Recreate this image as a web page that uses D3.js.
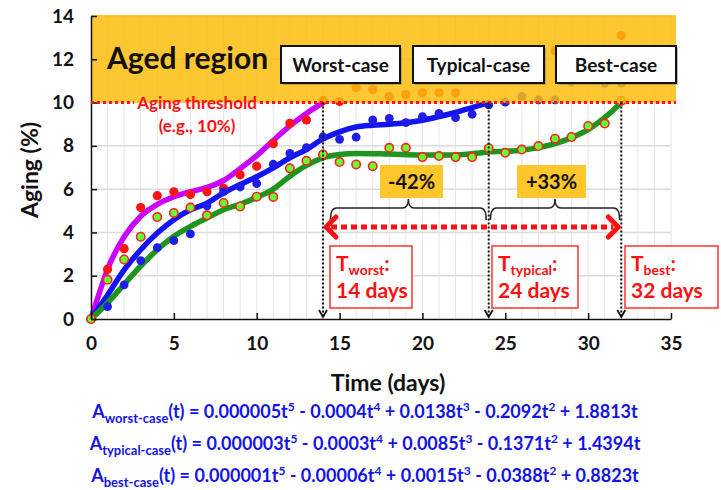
<!DOCTYPE html>
<html><head><meta charset="utf-8">
<script src="https://cdn.jsdelivr.net/npm/d3@7"></script>
<style>body{margin:0;background:#fff}svg{display:block}text{font-family:Lato,"Open Sans",sans-serif;font-weight:bold}</style>
</head><body><svg id="c" width="721" height="490"></svg>
<script>
// ---- data ----
const xTicks = [0,5,10,15,20,25,30,35];
const yTicks = [0,2,4,6,8,10,12,14];
const threshold = 10;
const caseDays = [14,24,32];
const caseNames = ["Worst-case","Typical-case","Best-case"];
const caseSubs = ["worst","typical","best"];
const changes = ["-42%","+33%"];

const worstDays = [0,1,2,3,4,5,6,7,8,9,10,11,12,13,14,15,16,17,18,19,20,21,22,28,32];
const worstVals = [0,2.3,3.25,5.15,5.7,5.88,5.75,5.88,6.04,6.66,7.06,8.1,9.04,9.2,10.1,10.05,10.68,10.6,10.28,10.37,10.45,10.45,10.45,12.4,13.1];
const typDays = [0,1,2,3,4,5,6,7,8,9,10,11,12,13,14,15,16,17,18,19,20,21,22,23,24,25,26,27,28,29,31,32];
const typVals = [0,0.57,1.58,2.7,3.3,3.62,3.93,5.23,5.88,6.1,6.26,7.15,7.65,7.92,8.42,8.3,8.4,9.2,9.27,9.07,9.35,9.5,9.3,9.46,9.89,10.02,10.28,10.12,10.12,10.95,10.9,10.9];
const bestDays = [0,1,2,3,4,5,6,7,8,9,10,11,12,13,14,15,16,17,18,19,20,21,22,23,24,25,26,27,28,29,30,31,32];
const bestVals = [0,1.81,2.75,3.8,4.71,4.9,5.15,4.79,5.36,5.2,5.65,5.64,6.96,7.31,7.6,7.25,7.14,7.06,7.91,7.91,7.48,7.53,7.48,7.48,7.89,7.68,7.83,7.99,8.33,8.41,8.92,9.03,10.07];

const worstFitT = [0,0.5,1,2,3,4,5,6,7,8,9,10,11,12,13,14];
const worstFitV = [0,1.2,2.3,3.8,4.75,5.3,5.65,5.88,6.08,6.4,6.95,7.55,8.25,8.92,9.5,10];
const typFitT = [0,1,2,3,4,5,6,7,8,9,10,11,12,13,14,15,16,17,18,19,20,21,22,23,24];
const typFitV = [0,1.11,2.27,3.2,3.97,4.59,5.05,5.35,5.83,6.21,6.57,6.98,7.45,7.83,8.32,8.65,8.87,8.95,9.0,9.07,9.18,9.35,9.54,9.77,10];
const bestFitT = [0,1,2,3,4,5,6,7,8,9,10,11,12,13,14,15,16,18,20,22,24,26,27,28,29,30,31,32];
const bestFitV = [0,0.75,1.6,2.45,3.2,3.82,4.28,4.67,5.05,5.3,5.62,6.0,6.6,7.1,7.45,7.6,7.65,7.62,7.58,7.58,7.72,7.8,7.92,8.1,8.38,8.75,9.3,10];

const eqSubs = ["worst-case","typical-case","best-case"];
const eqCoefs = [
 ["0.000005t"," - 0.0004t"," + 0.0138t"," - 0.2092t"," + 1.8813t"],
 ["0.000003t"," - 0.0003t"," + 0.0085t"," - 0.1371t"," + 1.4394t"],
 ["0.000001t"," - 0.00006t"," + 0.0015t"," - 0.0388t"," + 0.8823t"]
];
const eqPowers = ["5","4","3","2",""];

// ---- scales ----
const svg = d3.select("#c");
const x = d3.scaleLinear().domain([0,35]).range([91,671]);
const y = d3.scaleLinear().domain([0,14]).range([319,16]);

// grid
const g = svg.append("g");
g.selectAll(".vg").data(d3.range(1,36)).join("line")
  .attr("x1",d=>x(d)).attr("x2",d=>x(d)).attr("y1",y(0)).attr("y2",y(14))
  .attr("stroke","#e6e6e6").attr("stroke-width",1);
g.selectAll(".hg").data(yTicks.slice(1)).join("line")
  .attr("x1",x(0)).attr("x2",x(35)).attr("y1",d=>y(d)).attr("y2",d=>y(d))
  .attr("stroke","#dcdcdc").attr("stroke-width",1.5);

// fitted curves
const line = d3.line().x(d=>x(d[0])).y(d=>y(d[1])).curve(d3.curveMonotoneX);
const fits = [[worstFitT,worstFitV,"#CC00FF"],[typFitT,typFitV,"#1414F0"],[bestFitT,bestFitV,"#1E961E"]];
fits.forEach(([t,v,c])=>{
  svg.append("path").datum(t.map((d,i)=>[d,v[i]])).attr("d",line)
    .attr("fill","none").attr("stroke",c).attr("stroke-width",5.5).attr("stroke-linecap","round");
});

// measured points
svg.append("g").selectAll("circle").data(worstDays.map((d,i)=>[d,worstVals[i]])).join("circle")
  .attr("cx",d=>x(d[0])).attr("cy",d=>y(d[1])).attr("r",4.6).attr("fill","#FF1414");
svg.append("g").selectAll("circle").data(typDays.map((d,i)=>[d,typVals[i]])).join("circle")
  .attr("cx",d=>x(d[0])).attr("cy",d=>y(d[1])).attr("r",4.4).attr("fill","#1E1EE6");
svg.append("g").selectAll("circle").data(bestDays.map((d,i)=>[d,bestVals[i]])).join("circle")
  .attr("cx",d=>x(d[0])).attr("cy",d=>y(d[1])).attr("r",4.2).attr("fill","#66FF33")
  .attr("stroke","#FF2020").attr("stroke-width",1.6);

// aged region overlay
svg.append("rect").attr("x",x(0)).attr("y",y(14)-1).attr("width",676-x(0)).attr("height",y(threshold)-y(14)+1)
  .attr("fill","#FCBC0A").attr("fill-opacity",0.84);

// axes
const ax = svg.append("g").attr("transform",`translate(0,${y(0)})`)
  .call(d3.axisBottom(x).tickValues(xTicks).tickSizeInner(-6).tickSizeOuter(0).tickPadding(18));
ax.select(".domain").attr("stroke","#111").attr("stroke-width",1.5);
ax.selectAll(".tick line").attr("stroke","#111").attr("stroke-width",1.5);
ax.selectAll("text").attr("font-size",19).attr("fill","#111").attr("font-family","Lato").attr("font-weight","bold");
const ay = svg.append("g").attr("transform",`translate(${x(0)},0)`)
  .call(d3.axisLeft(y).tickValues(yTicks).tickSizeInner(-6).tickSizeOuter(0).tickPadding(17));
ay.select(".domain").attr("stroke","#111").attr("stroke-width",1.5);
ay.selectAll(".tick line").attr("stroke","#111").attr("stroke-width",1.5);
ay.selectAll("text").attr("font-size",19).attr("fill","#111").attr("font-family","Lato").attr("font-weight","bold");

svg.append("text").attr("transform",`translate(38,170) rotate(-90)`).attr("text-anchor","middle")
  .attr("font-size",23).attr("fill","#111").text("Aging (%)");
svg.append("text").attr("x",388).attr("y",391).attr("text-anchor","middle")
  .attr("font-size",23).attr("fill","#111").text("Time (days)");

// threshold line (broken behind label)
const ty = y(threshold);
[[x(0),134],[260,676]].forEach(([a,b])=>{
  svg.append("line").attr("x1",a).attr("x2",b).attr("y1",ty).attr("y2",ty)
    .attr("stroke","#FF1010").attr("stroke-width",3).attr("stroke-dasharray","3,3");
});
svg.append("text").attr("x",197).attr("y",ty+6).attr("text-anchor","middle").attr("font-size",17)
  .attr("fill","#FF1010").text("Aging threshold");
svg.append("text").attr("x",197).attr("y",ty+29).attr("text-anchor","middle").attr("font-size",17)
  .attr("fill","#FF1010").text("(e.g., 10%)");

svg.append("text").attr("x",107).attr("y",69).attr("font-size",30).attr("fill","#111").text("Aged region");

// case boxes
const boxX = [[281,400],[413,544],[556,676]];
caseNames.forEach((n,i)=>{
  const [a,b]=boxX[i];
  svg.append("rect").attr("x",a+2).attr("y",48).attr("width",b-a).attr("height",37).attr("fill","#8a7a50").attr("opacity",0.5);
  svg.append("rect").attr("x",a).attr("y",46).attr("width",b-a).attr("height",37).attr("fill","#fff").attr("stroke","#111").attr("stroke-width",2);
  svg.append("text").attr("x",(a+b)/2).attr("y",72).attr("text-anchor","middle").attr("font-size",19).attr("fill","#111").text(n);
});

// vertical dotted lines with arrowheads
caseDays.forEach(d=>{
  svg.append("line").attr("x1",x(d)).attr("x2",x(d)).attr("y1",ty).attr("y2",y(0)-2)
    .attr("stroke","#111").attr("stroke-width",2).attr("stroke-dasharray","2,2");
  svg.append("path").attr("d",`M${x(d)-4},${y(0)-9} L${x(d)},${y(0)-2} L${x(d)+4},${y(0)-9}`)
    .attr("fill","none").attr("stroke","#111").attr("stroke-width",1.8);
});

// braces
function brace(x1,x2,yb,yh,tip){
  const xm=(x1+x2)/2, r=6;
  return `M${x1},${yb} Q${x1},${yh} ${x1+r},${yh} L${xm-r},${yh} Q${xm},${yh} ${xm},${tip} Q${xm},${yh} ${xm+r},${yh} L${x2-r},${yh} Q${x2},${yh} ${x2},${yb}`;
}
svg.append("path").attr("d",brace(x(14.45),x(23.85),220,208,199)).attr("fill","none").attr("stroke","#222").attr("stroke-width",1.5);
svg.append("path").attr("d",brace(x(24.1),x(31.9),220,208,199)).attr("fill","none").attr("stroke","#222").attr("stroke-width",1.5);

// change labels
[[380,443],[517,586]].forEach(([a,b],i)=>{
  svg.append("rect").attr("x",a).attr("y",165).attr("width",b-a).attr("height",33).attr("fill","#FFC72C");
  svg.append("text").attr("x",(a+b)/2).attr("y",189).attr("text-anchor","middle").attr("font-size",20).attr("fill","#111").text(changes[i]);
});

// red double arrow
const ay2 = 227;
svg.append("line").attr("x1",x(14)+8).attr("x2",x(32)-8).attr("y1",ay2).attr("y2",ay2)
  .attr("stroke","#FF1010").attr("stroke-width",5).attr("stroke-dasharray","6,4");
svg.append("path").attr("d",`M${x(14)+13},${ay2-10} L${x(14)+3},${ay2} L${x(14)+13},${ay2+10}`)
  .attr("fill","none").attr("stroke","#FF1010").attr("stroke-width",5).attr("stroke-linecap","round").attr("stroke-linejoin","round");
svg.append("path").attr("d",`M${x(32)-13},${ay2-10} L${x(32)-3},${ay2} L${x(32)-13},${ay2+10}`)
  .attr("fill","none").attr("stroke","#FF1010").attr("stroke-width",5).attr("stroke-linecap","round").attr("stroke-linejoin","round");

// T boxes
const tBox = [[330,412],[492,578],[625,718]];
caseDays.forEach((d,i)=>{
  const [a,b]=tBox[i];
  svg.append("rect").attr("x",a).attr("y",246).attr("width",b-a).attr("height",62).attr("fill","#fff").attr("stroke","#FF3030").attr("stroke-width",1.5);
  const t1 = svg.append("text").attr("x",a+6).attr("y",271).attr("font-size",21).attr("fill","#FF1010");
  t1.append("tspan").text("T");
  t1.append("tspan").attr("font-size",14).attr("dy",4).text(caseSubs[i]);
  t1.append("tspan").attr("dy",-4).text(":");
  svg.append("text").attr("x",a+6).attr("y",298).attr("font-size",21).attr("fill","#FF1010").text(d+" days");
});

// equations
const eqY = [418,450,482];
eqCoefs.forEach((coefs,i)=>{
  const t = svg.append("text").attr("x",365).attr("y",eqY[i]).attr("text-anchor","middle").attr("font-size",18).attr("fill","#1414E6");
  t.append("tspan").text("A");
  t.append("tspan").attr("font-size",13).attr("dy",5).text(eqSubs[i]);
  let shift = -5;
  t.append("tspan").attr("dy",shift).text("(t) = ");
  shift = 0;
  coefs.forEach((s,k)=>{
    t.append("tspan").attr("dy",-shift).text(s);
    shift = 0;
    if(eqPowers[k]){ t.append("tspan").attr("font-size",12).attr("dy",-7).text(eqPowers[k]); shift = -7; }
  });
});
</script></body></html>
